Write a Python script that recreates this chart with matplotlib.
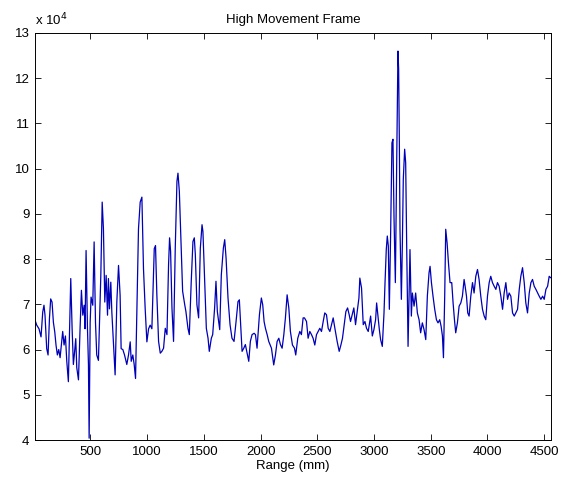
import numpy as np
import matplotlib
matplotlib.use("Agg")
import matplotlib.pyplot as plt

# signal: range (mm) and amplitude (x 10^4)
range_mm = [
    12, 27, 47, 65, 80, 91, 100, 115, 127, 139, 150, 162, 174, 186, 197, 209, 221, 233, 247, 256,
    268, 280, 292, 306, 315, 327, 339, 350, 359, 371, 380, 395, 409, 421, 433, 445, 453, 462, 474, 483,
    489, 498, 506, 521, 533, 545, 556, 571, 580, 592, 604, 615, 627, 639, 651, 659, 668, 680, 689, 704,
    718, 733, 748, 762, 771, 786, 801, 821, 836, 851, 860, 874, 886, 898, 910, 924, 939, 954, 968, 983,
    998, 1013, 1027, 1042, 1063, 1074, 1086, 1101, 1116, 1130, 1145, 1160, 1175, 1189, 1198, 1207, 1219, 1233, 1248, 1263,
    1272, 1284, 1301, 1313, 1331, 1342, 1360, 1372, 1389, 1404, 1416, 1425, 1439, 1454, 1469, 1484, 1492, 1507, 1522, 1537,
    1548, 1566, 1578, 1595, 1607, 1619, 1631, 1640, 1654, 1672, 1684, 1696, 1713, 1731, 1748, 1766, 1784, 1801, 1813, 1825,
    1837, 1852, 1866, 1881, 1896, 1910, 1925, 1943, 1955, 1969, 1990, 2007, 2019, 2031, 2043, 2058, 2072, 2096, 2116, 2131,
    2146, 2161, 2175, 2190, 2205, 2219, 2234, 2249, 2263, 2281, 2299, 2310, 2328, 2346, 2360, 2375, 2387, 2405, 2419, 2434,
    2449, 2463, 2478, 2493, 2508, 2522, 2537, 2552, 2566, 2581, 2596, 2611, 2625, 2640, 2655, 2675, 2693, 2708, 2722, 2737,
    2752, 2767, 2781, 2793, 2808, 2822, 2837, 2852, 2867, 2875, 2890, 2905, 2920, 2934, 2949, 2970, 2985, 2999, 3014, 3023,
    3035, 3047, 3058, 3073, 3088, 3097, 3108, 3117, 3126, 3135, 3147, 3158, 3167, 3176, 3188, 3200, 3211, 3217, 3223, 3229,
    3241, 3250, 3258, 3270, 3279, 3288, 3300, 3317, 3329, 3338, 3353, 3367, 3382, 3397, 3411, 3426, 3441, 3456, 3470, 3485,
    3494, 3506, 3520, 3535, 3550, 3564, 3579, 3591, 3603, 3612, 3623, 3632, 3644, 3656, 3670, 3685, 3697, 3709, 3720, 3735,
    3750, 3765, 3779, 3794, 3803, 3815, 3826, 3838, 3853, 3868, 3882, 3897, 3912, 3926, 3941, 3956, 3971, 3985, 4000, 4015,
    4029, 4044, 4059, 4074, 4088, 4103, 4118, 4133, 4147, 4162, 4177, 4191, 4206, 4221, 4236, 4250, 4265, 4280, 4294, 4309,
    4324, 4338, 4353, 4368, 4383, 4397, 4412, 4427, 4442, 4456, 4471, 4486, 4500, 4515, 4530, 4544, 4556,
]
amp_e4 = [
    6.65, 6.54, 6.46, 6.28, 6.83, 6.98, 6.76, 6.02, 5.88, 6.68, 7.12, 7.05, 6.60, 6.39, 6.10, 5.88, 6.00, 5.82, 6.17, 6.40,
    6.10, 6.30, 5.74, 5.29, 6.30, 7.57, 6.46, 5.67, 5.90, 6.24, 5.60, 5.33, 6.46, 7.31, 6.76, 6.98, 6.46, 8.19, 6.50, 5.67,
    4.04, 6.60, 7.16, 6.98, 8.38, 6.60, 5.88, 5.76, 6.60, 7.64, 9.26, 8.67, 7.05, 7.64, 6.76, 7.57, 6.90, 7.49, 6.83, 6.10,
    5.44, 7.05, 7.86, 7.20, 6.02, 6.00, 5.88, 5.67, 5.88, 6.17, 5.74, 5.88, 5.67, 5.36, 6.90, 8.67, 9.26, 9.37, 7.79, 6.90,
    6.17, 6.46, 6.54, 6.46, 8.23, 8.30, 7.20, 6.18, 5.92, 5.96, 6.03, 6.47, 6.33, 7.87, 8.47, 8.17, 6.92, 6.18, 8.24, 9.72,
    9.90, 9.50, 8.24, 7.29, 7.00, 6.84, 6.47, 6.33, 7.51, 8.39, 8.47, 8.10, 6.99, 6.70, 8.24, 8.76, 8.61, 7.51, 6.47, 6.25,
    5.96, 6.25, 6.33, 6.92, 7.51, 6.84, 6.62, 6.44, 7.65, 8.24, 8.43, 8.02, 7.14, 6.55, 6.25, 6.18, 6.62, 7.06, 7.10, 6.55,
    5.96, 6.03, 6.11, 5.92, 5.74, 6.18, 6.33, 6.36, 6.33, 6.03, 6.77, 7.14, 6.99, 6.62, 6.47, 6.33, 6.18, 6.03, 5.66, 5.88,
    6.18, 6.25, 6.11, 6.03, 6.33, 6.70, 7.21, 6.92, 6.40, 6.10, 6.03, 5.88, 6.25, 6.40, 6.33, 6.70, 6.70, 6.62, 6.25, 6.40,
    6.33, 6.25, 6.10, 6.33, 6.40, 6.47, 6.40, 6.62, 6.81, 6.77, 6.47, 6.40, 6.55, 6.70, 6.47, 6.18, 5.96, 6.10, 6.25, 6.55,
    6.84, 6.92, 6.77, 6.62, 6.77, 6.92, 6.55, 6.84, 7.14, 7.58, 7.36, 6.55, 6.62, 6.47, 6.40, 6.74, 6.30, 6.44, 6.66, 7.03,
    6.74, 6.44, 6.22, 6.07, 6.81, 7.48, 8.21, 8.51, 8.29, 6.89, 8.66, 10.57, 10.65, 8.95, 7.48, 10.13, 12.60, 12.20, 10.65, 8.66,
    7.11, 8.36, 9.76, 10.43, 10.13, 8.29, 6.07, 8.21, 6.74, 7.25, 6.96, 7.25, 6.81, 6.66, 6.37, 6.59, 6.44, 6.22, 7.18, 7.70,
    7.84, 7.48, 7.18, 6.89, 6.66, 6.59, 6.66, 6.52, 6.30, 5.82, 7.18, 8.66, 8.36, 7.92, 7.48, 7.48, 7.03, 6.66, 6.37, 6.59,
    6.96, 7.03, 7.18, 7.55, 7.40, 7.18, 6.81, 6.74, 7.18, 7.48, 7.25, 7.62, 7.77, 7.55, 7.18, 6.89, 6.74, 6.66, 7.18, 7.48,
    7.62, 7.48, 7.40, 7.33, 7.48, 7.40, 7.18, 6.89, 7.25, 7.48, 7.11, 7.25, 7.18, 6.81, 6.74, 6.81, 6.89, 7.33, 7.62, 7.81,
    7.48, 7.03, 6.81, 7.25, 7.48, 7.55, 7.40, 7.33, 7.25, 7.18, 7.11, 7.18, 7.11, 7.33, 7.40, 7.62, 7.59,
]
x_ticks = [500, 1000, 1500, 2000, 2500, 3000, 3500, 4000, 4500]
y_ticks = [4, 5, 6, 7, 8, 9, 10, 11, 12, 13]


def main():
    plt.rcParams["font.family"] = ["Liberation Sans", "DejaVu Sans"]
    x = np.array(range_mm, float)
    y = np.array(amp_e4, float) * 1e4

    fig = plt.figure(figsize=(5.63, 4.84), dpi=100)
    ax = fig.add_axes([0.0622, 0.0909, 0.9165, 0.841])
    ax.plot(x, y, color=(0.0, 0.0, 0.72), lw=0.9)

    ax.set_xlim(12, 4560)
    ax.set_ylim(4e4, 13e4)
    ax.set_xticks(x_ticks)
    ax.set_xticklabels([str(t) for t in x_ticks])
    ax.set_yticks([t * 1e4 for t in y_ticks])
    ax.set_yticklabels([str(t) for t in y_ticks])
    ax.tick_params(direction="in", top=True, right=True, length=4, width=0.6,
                   labelsize=9.5, pad=4)
    for s in ax.spines.values():
        s.set_linewidth(0.7)

    ax.set_xlabel("Range (mm)", fontsize=9.5, labelpad=2)
    ax.set_title("High Movement Frame", fontsize=9.5, pad=7)
    ax.text(0.0, 1.012, "x 10$^{4}$", transform=ax.transAxes, fontsize=9.5,
            ha="left", va="bottom")

    fig.savefig("out.png", dpi=100)


if __name__ == "__main__":
    main()
